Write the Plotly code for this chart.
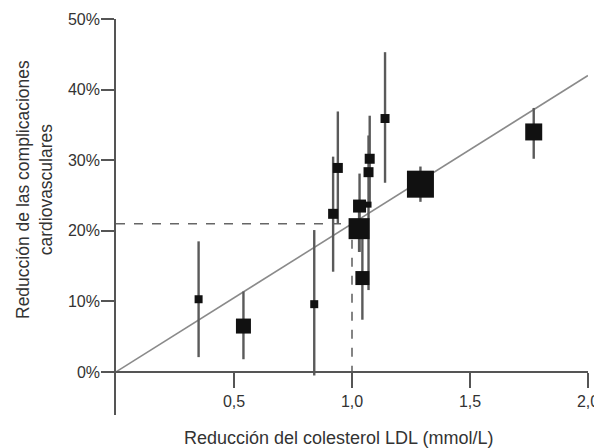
import plotly.graph_objects as go

# Data
ldl_reduction = [0.35, 0.54, 0.84, 0.92, 0.94, 1.075, 1.07, 1.032, 1.07, 1.03, 1.044, 1.14, 1.29, 1.77]
event_reduction = [10.3, 6.5, 9.6, 22.4, 28.9, 30.2, 28.3, 23.5, 23.7, 20.3, 13.3, 35.9, 26.6, 34.0]
ci_low = [2.1, 1.8, -0.5, 14.2, 21.0, 23.5, 11.6, 17.0, 23.7, 17.0, 7.4, 26.8, 24.1, 30.2]
ci_high = [18.5, 11.4, 20.1, 30.5, 36.9, 36.3, 33.5, 28.1, 23.7, 24.0, 19.0, 45.3, 29.1, 37.4]
marker_px = [8, 15, 8, 10, 10, 10, 10, 13, 6, 21, 14, 9, 27, 17]

slope = 21.0  # % per mmol/L
fit_x = [0.0, 2.0]
fit_y = [slope * v for v in fit_x]
ref_x = [0.0, 1.0, 1.0]
ref_y = [21.0, 21.0, 0.0]

x_ticks = [0.5, 1.0, 1.5, 2.0]
x_ticktext = ["0,5", "1,0", "1,5", "2,0"]
y_ticks = [0, 10, 20, 30, 40, 50]
y_ticktext = ["0%", "10%", "20%", "30%", "40%", "50%"]

y_min, y_max = -6.1, 50.0

fig = go.Figure()

fig.add_trace(go.Scatter(
    x=fit_x, y=fit_y, mode="lines",
    line=dict(color="#8a8a8a", width=1.6), hoverinfo="skip", showlegend=False))

fig.add_trace(go.Scatter(
    x=ref_x, y=ref_y, mode="lines",
    line=dict(color="#666666", width=1.6, dash="dash"), hoverinfo="skip", showlegend=False))

fig.add_trace(go.Scatter(
    x=ldl_reduction, y=event_reduction, mode="markers",
    marker=dict(symbol="square", size=marker_px, color="#111111", opacity=1, line=dict(width=0)),
    error_y=dict(type="data", symmetric=False,
                 array=[h - v for h, v in zip(ci_high, event_reduction)],
                 arrayminus=[v - l for v, l in zip(event_reduction, ci_low)],
                 color="#5a5a5a", thickness=2.4, width=0),
    showlegend=False))

# page body has an 8px default margin: size the figure so it ends at the window edge
OFF = 8
W, H = 602 - OFF, 448 - OFF
L, R, T, B = 116 - OFF, 14, 19 - OFF, 33
pw, ph = W - L - R, H - T - B

fig.update_layout(
    width=W, height=H,
    margin=dict(l=L, r=R, t=T, b=B, autoexpand=False),
    plot_bgcolor="white", paper_bgcolor="white",
    font=dict(family="Liberation Sans, Arial, sans-serif", size=16, color="#333333"),
    xaxis=dict(range=[0, 2.0], tickvals=x_ticks, ticktext=x_ticktext, automargin=False,
               showgrid=False, zeroline=False, showline=True, linecolor="#555555", linewidth=1.6,
               ticks="outside", ticklen=15, tickwidth=1.6, tickcolor="#555555",
               anchor="free", position=(0 - y_min) / (y_max - y_min),
               tickfont=dict(size=16, color="#333333")),
    yaxis=dict(range=[y_min, y_max], tickvals=y_ticks, ticktext=y_ticktext, automargin=False,
               showgrid=False, zeroline=False, showline=True, linecolor="#555555", linewidth=1.6,
               ticks="outside", ticklen=13, tickwidth=1.6, tickcolor="#555555",
               ticklabelstandoff=-2,
               tickfont=dict(size=16, color="#333333")),
    annotations=[
        dict(text="Reducción del colesterol LDL (mmol/L)", xref="paper", yref="paper",
             x=(338 - 116) / pw, y=(448 - B - 438) / ph, xanchor="center", yanchor="middle",
             showarrow=False, font=dict(size=18, color="#333333")),
        dict(text="Reducción de las complicaciones<br>cardiovasculares", xref="paper", yref="paper",
             x=(35 - 116) / pw, y=(448 - B - 190) / ph, xanchor="center", yanchor="middle",
             showarrow=False, textangle=-90, font=dict(size=17.5, color="#333333")),
    ],
)

fig.write_html("out.html")
